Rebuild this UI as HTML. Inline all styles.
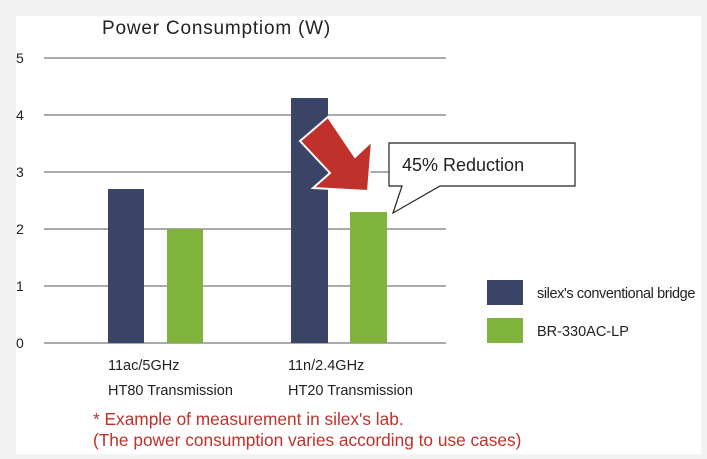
<!DOCTYPE html>
<html><head><style>
body{margin:0;width:707px;height:459px;background:#f2f2f2;overflow:hidden}
</style></head><body>
<svg width="707" height="459" xmlns="http://www.w3.org/2000/svg" style="position:absolute;left:0;top:0">
<rect x="16" y="16" width="685" height="438" fill="#fff"/>
<g font-family="Liberation Sans, sans-serif" fill="#222">
<text x="102" y="34" font-size="19" letter-spacing="0.8">Power Consumptiom (W)</text>
<g font-size="14">
<text x="16" y="63">5</text><text x="16" y="120">4</text><text x="16" y="177">3</text>
<text x="16" y="234">2</text><text x="16" y="291">1</text><text x="16" y="348">0</text>
</g>
</g>
<g stroke="#777" stroke-width="1.3">
<line x1="44" y1="58" x2="446" y2="58"/><line x1="44" y1="115" x2="446" y2="115"/>
<line x1="44" y1="172" x2="446" y2="172"/><line x1="44" y1="229" x2="446" y2="229"/>
<line x1="44" y1="286" x2="446" y2="286"/><line x1="44" y1="343" x2="446" y2="343"/>
</g>
<rect x="108" y="189" width="36" height="154" fill="#3a4466"/>
<rect x="167" y="229" width="36" height="114" fill="#80b33c"/>
<rect x="291" y="98" width="37" height="245" fill="#3a4466"/>
<rect x="350" y="212" width="37" height="131" fill="#80b33c"/>
<polygon points="328,117 300,141 330,173 313,188 368,191 372,141 355,157" fill="#c0312b" stroke="#fff" stroke-width="2" stroke-linejoin="miter"/>
<polygon points="389,143 575,143 575,186 440,186 393,213 402,186 389,186" fill="#fff" stroke="#222" stroke-width="1.2"/>
<text x="402" y="171" font-family="Liberation Sans, sans-serif" font-size="18" fill="#222">45% Reduction</text>
<rect x="487" y="280" width="36" height="25" fill="#3a4466"/>
<rect x="487" y="318" width="36" height="25" fill="#80b33c"/>
<g font-family="Liberation Sans, sans-serif" font-size="14.5" fill="#222">
<text x="537" y="298" letter-spacing="-0.4">silex's conventional bridge</text>
<text x="537" y="336">BR-330AC-LP</text>
<text x="108" y="370">11ac/5GHz</text>
<text x="108" y="395">HT80 Transmission</text>
<text x="288" y="370">11n/2.4GHz</text>
<text x="288" y="395">HT20 Transmission</text>
</g>
<g font-family="Liberation Sans, sans-serif" font-size="17.3" fill="#c0312b">
<text x="93" y="425">* Example of measurement in silex's lab.</text>
<text x="93" y="446">(The power consumption varies according to use cases)</text>
</g>
</svg>
</body></html>
